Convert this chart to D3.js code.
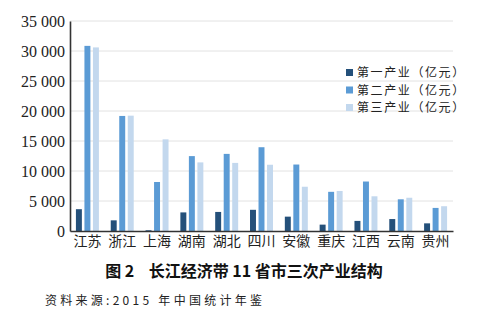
<!DOCTYPE html>
<html>
<head>
<meta charset="utf-8">
<script src="https://cdn.jsdelivr.net/npm/d3@7"></script>
<style>
  body { margin: 0; background: #fff; }
  svg { display: block; }
</style>
</head>
<body>
<svg id="chart"></svg>
<script>
var width = 480,
    height = 323;

var provinces = ['江苏','浙江','上海','湖南','湖北','四川','安徽','重庆','江西','云南','贵州'];
var primary   = [3634, 1777, 124, 3099, 3177, 3531, 2392, 1061, 1683, 1991, 1275];
var secondary = [30854, 19175, 8167, 12482, 12852, 13962, 11079, 6529, 8247, 5282, 3847];
var tertiary  = [30599, 19221, 15276, 11434, 11350, 11043, 7378, 6672, 5784, 5542, 4129];
var seriesNames = ['第一产业（亿元）','第二产业（亿元）','第三产业（亿元）'];
var yTicks = [0, 5000, 10000, 15000, 20000, 25000, 30000, 35000];

var colors = ['#24507a', '#5b9bd5', '#c3d8ee'];
var allSeries = [primary, secondary, tertiary];

var margin = {left: 70, right: 27, top: 21, bottom: 92};

var svg = d3.select('#chart')
            .attr('width', width)
            .attr('height', height);

var x = d3.scaleBand()
          .domain(provinces)
          .range([margin.left, width - margin.right])
          .paddingInner(0.34)
          .paddingOuter(0.17);

var xs = d3.scaleBand()
           .domain([0, 1, 2])
           .range([0, x.bandwidth()])
           .paddingInner(0.3);

var y = d3.scaleLinear()
          .domain([0, 35000])
          .range([height - margin.bottom, margin.top]);

var fmt = d => d3.format(',')(d).replace(/,/g, ' ');

// gridlines
svg.append('g')
   .selectAll('line')
   .data(yTicks.slice(1))
   .enter()
   .append('line')
   .attr('x1', margin.left)
   .attr('x2', width - margin.right)
   .attr('y1', d => y(d))
   .attr('y2', d => y(d))
   .attr('stroke', '#e2e2e2')
   .attr('stroke-width', 1);

// y axis
var yAxis = svg.append('g')
   .attr('transform', 'translate(' + margin.left + ',0)')
   .call(d3.axisLeft(y).tickValues(yTicks).tickFormat(fmt).tickSize(0).tickPadding(5));
yAxis.select('.domain').attr('stroke', '#333').attr('stroke-width', 1.6);
yAxis.selectAll('text')
   .attr('font-family', '"Liberation Serif", "Times New Roman", serif')
   .attr('font-size', 16)
   .attr('fill', '#222');

// bars
var groups = svg.selectAll('.grp')
   .data(provinces)
   .enter()
   .append('g')
   .attr('class', 'grp')
   .attr('transform', d => 'translate(' + x(d) + ',0)');

groups.selectAll('rect')
   .data((d, i) => allSeries.map((s, k) => ({k: k, v: s[i]})))
   .enter()
   .append('rect')
   .attr('x', d => xs(d.k))
   .attr('width', xs.bandwidth())
   .attr('y', d => y(d.v))
   .attr('height', d => y(0) - y(d.v))
   .attr('fill', d => colors[d.k]);

// baseline + x axis labels
var xAxis = svg.append('g')
   .attr('transform', 'translate(0,' + y(0) + ')')
   .call(d3.axisBottom(x).tickSize(0).tickPadding(5));
xAxis.select('.domain').attr('stroke', '#333').attr('stroke-width', 1.6);
xAxis.selectAll('text')
   .attr('font-family', '"Noto Sans CJK SC", sans-serif')
   .attr('font-size', 14)
   .attr('fill', '#222');

// legend
var legend = svg.append('g')
   .attr('transform', 'translate(346,73)');
var items = legend.selectAll('g')
   .data(seriesNames)
   .enter()
   .append('g')
   .attr('transform', (d, i) => 'translate(0,' + (i * 17.5) + ')');
items.append('rect')
   .attr('x', 0).attr('y', -4)
   .attr('width', 7).attr('height', 7)
   .attr('fill', (d, i) => colors[i]);
items.append('text')
   .attr('x', 11).attr('y', 0)
   .attr('dy', '0.35em')
   .attr('font-family', '"Noto Sans CJK SC", sans-serif')
   .attr('font-size', 12)
   .attr('letter-spacing', 1.6)
   .attr('fill', '#222')
   .text(d => d);

// caption
svg.append('text')
   .attr('x', 244).attr('y', 277)
   .attr('text-anchor', 'middle')
   .attr('font-family', '"Noto Sans CJK SC", sans-serif')
   .attr('font-weight', 'bold')
   .attr('font-size', 16)
   .attr('fill', '#111')
   .attr('xml:space', 'preserve')
   .text('图 2    长江经济带 11 省市三次产业结构');

svg.append('text')
   .attr('x', 45).attr('y', 305)
   .attr('font-family', '"Noto Sans CJK SC", sans-serif')
   .attr('font-size', 12)
   .attr('textLength', 217)
   .attr('lengthAdjust', 'spacing')
   .attr('fill', '#222')
   .text('资料来源:2015 年中国统计年鉴');
</script>
</body>
</html>
